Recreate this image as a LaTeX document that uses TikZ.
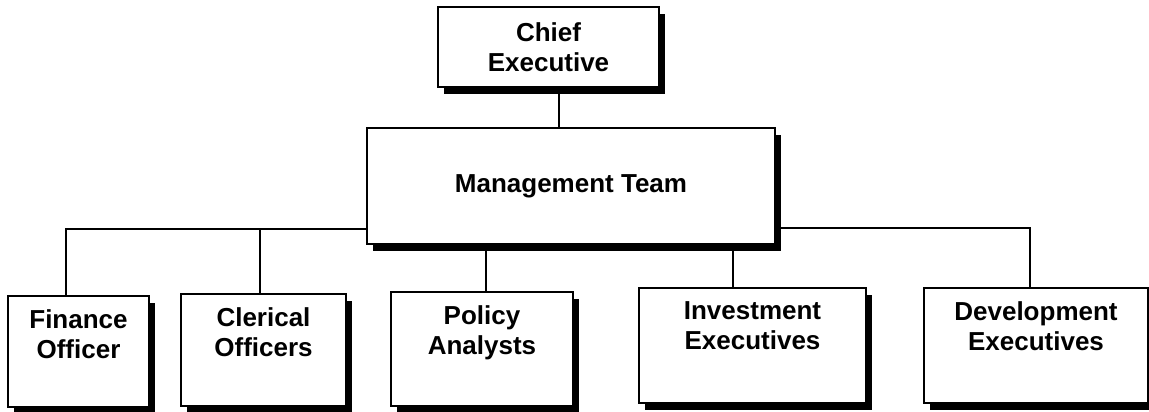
\documentclass[tikz,border=0pt]{standalone}
\usepackage{fontspec}
\setmainfont{Liberation Sans}
\usetikzlibrary{shadows,positioning}
\tikzset{
  office/.style={draw,fill=white,line width=1.3pt,inner sep=0pt,align=center,
    drop shadow={shadow xshift=6pt,shadow yshift=-7pt,fill=black,opacity=1},
    font=\bfseries\fontsize{26}{30}\selectfont},
  caption/.style={inner sep=0pt,align=center,text depth=0pt,
    font=\bfseries\fontsize{26}{30}\selectfont},
  link/.style={-,line width=1.3pt}
}

\begin{document}
\begin{tikzpicture}[x=1pt,y=-1pt]
  \useasboundingbox (0,0) rectangle (1149,412);
  \node[office,minimum width=221pt,minimum height=80pt] (ceo) at (548.5,47) {Chief\\Executive};
  \node[office,minimum width=408pt,minimum height=116pt] (mgmt) at (571,186) {Management Team};
  \foreach \nm/\px/\py/\bw/\bh/\dx/\txt in {fin/78.5/351.5/141/111/-12.5/{Finance\\Officer},
    cle/263.5/350/165/112/-3.5/{Clerical\\Officers},
    pol/482/349/182/114/4/{Policy\\Analysts},
    inv/752.5/345.5/227/115/-19.5/{Investment\\Executives},
    dev/1036/345.5/224/115/-6/{Development\\Executives}} {
    \node[office,minimum width=\bw pt,minimum height=\bh pt] (\nm) at (\px,\py) {};
    \path (\nm.north) ++(0,38.5) node[caption] (\nm-txt) {\txt};
    \path (\nm.north) ++(\dx,0) coordinate (\nm-top);
  }
  \coordinate (ceo-foot) at ([xshift=10.5pt]ceo.south);
  \coordinate (lbus) at ([yshift=-43pt]mgmt.west);
  \coordinate (rbus) at ([yshift=-42pt]mgmt.east);
  \draw[link] (ceo-foot) -- (ceo-foot |- mgmt.north);
  \draw[link] (lbus) -| (fin-top);
  \draw[link] (cle-top) -- (cle-top |- lbus);
  \draw[link] (pol-top) -- (pol-top |- mgmt.south);
  \draw[link] (inv-top) -- (inv-top |- mgmt.south);
  \draw[link] (rbus) -| (dev-top);
\end{tikzpicture}
\end{document}
